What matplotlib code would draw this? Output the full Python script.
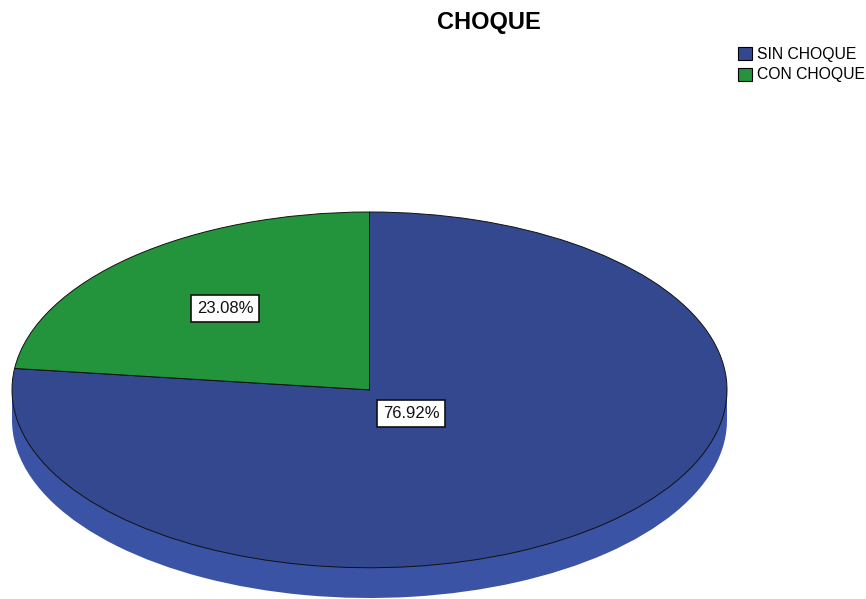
import numpy as np
import matplotlib
matplotlib.use('Agg')
import matplotlib.pyplot as plt
from matplotlib.patches import Patch, Rectangle

plt.rcParams['font.family'] = ['Liberation Sans', 'DejaVu Sans']

# data: cases per category
categories = ['SIN CHOQUE', 'CON CHOQUE']
counts = [10, 3]
top_colors = ['#33488e', '#23943c']
side_colors = ['#3b53a5', '#1f8536']

W, H = 866, 599
fig = plt.figure(figsize=(W / 100, H / 100), dpi=100)

depth = 0.17  # thickness of the 3d side, in pie radius units
# axes spanning the pie, x from 12 to 727 px, y from 212 to 598 px
ax = fig.add_axes([12 / W, 1 / H, 715 / W, 386 / H])

# side wall: shifted pie plus band
ax.pie(counts, colors=side_colors, startangle=90, counterclock=False,
       center=(0, -depth), wedgeprops=dict(linewidth=0))
ax.add_patch(Rectangle((-1, -depth), 2, depth, facecolor=side_colors[0],
                       edgecolor='none', zorder=0.5))

# top face
wedges, texts, autotexts = ax.pie(
    counts, colors=top_colors, startangle=90, counterclock=False,
    autopct='%1.2f%%', pctdistance=0.61,
    wedgeprops=dict(edgecolor='#111111', linewidth=0.7),
    textprops=dict(fontsize=12, color='#111111'))

for w in wedges:
    w.set_zorder(2)
for t in autotexts:
    t.set_zorder(3)
    t.set_bbox(dict(boxstyle='square,pad=0.35', fc='white', ec='#111111', lw=1.2))

# the big slice label sits close to the center
w0 = wedges[0]
mid = np.deg2rad((w0.theta1 + w0.theta2) / 2)
autotexts[0].set_position((0.176 * np.cos(mid), 0.176 * np.sin(mid)))

ax.set_aspect('auto')
ax.set_xlim(-1, 1)
ax.set_ylim(-1 - depth, 1)
ax.axis('off')

fig.text(489 / W, 1 - 23 / H, 'CHOQUE', ha='center', va='center',
         fontsize=17, fontweight='bold')

handles = [Patch(facecolor=c, edgecolor='black', linewidth=0.8) for c in top_colors]
fig.legend(handles, categories, loc='upper left',
           bbox_to_anchor=(738 / W, 1 - 47 / H), frameon=False,
           fontsize=11.3, handlelength=0.9, handleheight=0.9,
           handletextpad=0.3, labelspacing=0.35, borderpad=0, borderaxespad=0)

fig.savefig('out.png', dpi=100, facecolor='white')
